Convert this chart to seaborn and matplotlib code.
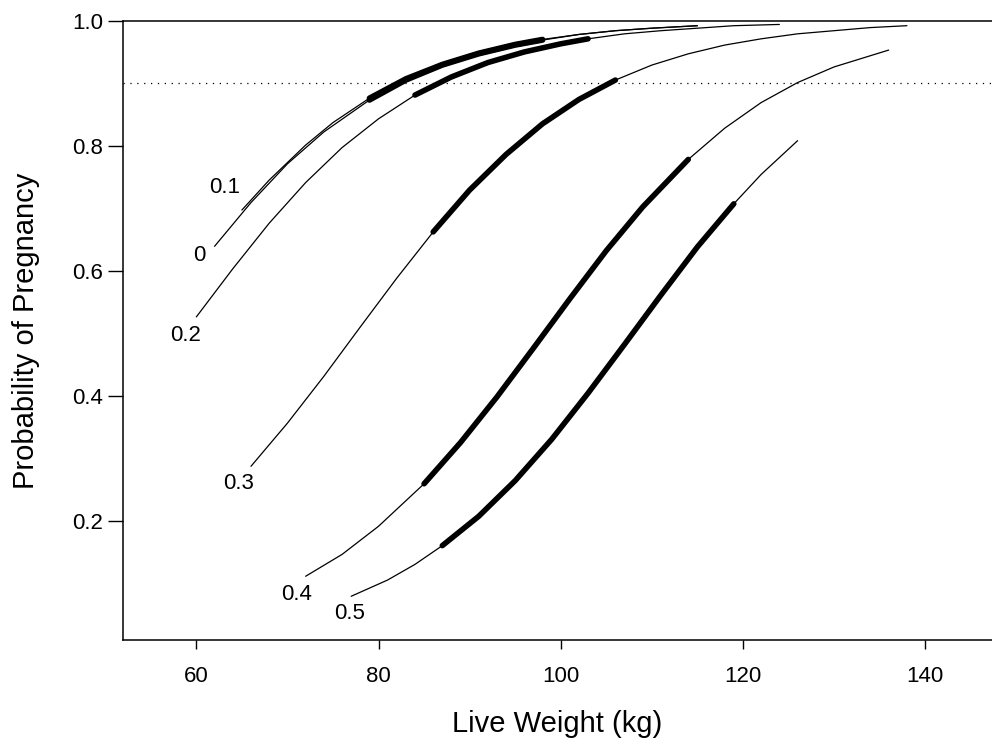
import numpy as np
import pandas as pd
import matplotlib
matplotlib.use("Agg")
import matplotlib.pyplot as plt
import seaborn as sns

sns.set_style("ticks", {'text.color': 'black', 'axes.labelcolor': 'black',
                        'xtick.color': 'black', 'ytick.color': 'black',
                        'axes.edgecolor': 'black'})
plt.rcParams['font.family'] = ['Liberation Sans', 'DejaVu Sans']

# curves: live weight (kg) -> probability of pregnancy
curve_names = ['0', '0.1', '0.2', '0.3', '0.4', '0.5']

w_0 = [62, 66, 70, 74, 79, 83, 87, 91, 95, 98, 102, 106, 110, 115]
p_0 = [0.639, 0.709, 0.771, 0.822, 0.873, 0.905, 0.929, 0.947, 0.961, 0.969, 0.978, 0.984, 0.988, 0.992]

w_01 = [65, 68, 72, 75, 79, 83, 87, 91, 95, 98, 102, 106, 110, 115]
p_01 = [0.697, 0.745, 0.801, 0.837, 0.876, 0.907, 0.930, 0.948, 0.962, 0.970, 0.978, 0.984, 0.988, 0.992]

w_02 = [60, 64, 68, 72, 76, 80, 84, 88, 92, 96, 100, 103, 107, 111, 115, 119, 124]
p_02 = [0.526, 0.603, 0.676, 0.741, 0.797, 0.843, 0.881, 0.910, 0.933, 0.950, 0.963, 0.971, 0.979, 0.984, 0.988, 0.992, 0.994]

w_03 = [66, 70, 74, 78, 82, 86, 90, 94, 98, 102, 106, 110, 114, 118, 122, 126, 130, 134, 138]
p_03 = [0.287, 0.356, 0.431, 0.510, 0.588, 0.662, 0.729, 0.786, 0.835, 0.874, 0.905, 0.929, 0.947, 0.961, 0.971, 0.979, 0.984, 0.989, 0.992]

w_04 = [72, 76, 80, 85, 89, 93, 97, 101, 105, 109, 114, 118, 122, 126, 130, 136]
p_04 = [0.111, 0.146, 0.191, 0.259, 0.325, 0.398, 0.476, 0.555, 0.632, 0.702, 0.778, 0.828, 0.869, 0.901, 0.926, 0.953]

w_05 = [77, 81, 84, 87, 91, 95, 99, 103, 107, 111, 115, 119, 122, 126]
p_05 = [0.079, 0.105, 0.130, 0.160, 0.207, 0.264, 0.330, 0.404, 0.482, 0.561, 0.638, 0.707, 0.754, 0.808]

# weight range drawn with the heavy line
thick_from = [79, 79, 84, 86, 85, 87]
thick_to = [98, 98, 103, 106, 114, 119]

# where each curve name is written
label_x = [60.3, 63.1, 58.8, 64.6, 71.0, 76.8]
label_y = [0.624, 0.733, 0.496, 0.259, 0.082, 0.051]

target = 0.9

weights = [w_0, w_01, w_02, w_03, w_04, w_05]
probs = [p_0, p_01, p_02, p_03, p_04, p_05]
rows = []
for name, ws, ps, lo, hi in zip(curve_names, weights, probs, thick_from, thick_to):
    for w, p in zip(ws, ps):
        rows.append({'curve': name, 'weight': w, 'prob': p, 'thick': lo <= w <= hi})
df = pd.DataFrame(rows)

fig = plt.figure(figsize=(9.92, 7.47), dpi=100)
ax = fig.add_axes([123 / 992, 107 / 747, 869 / 992, 619.3 / 747])

for name in curve_names:
    sub = df[df['curve'] == name]
    sns.lineplot(data=sub, x='weight', y='prob', color='black', linewidth=0.9,
                 sort=False, estimator=None, ax=ax)
    sns.lineplot(data=sub[sub['thick']], x='weight', y='prob', color='black',
                 linewidth=4.0, sort=False, estimator=None, ax=ax,
                 solid_capstyle='round')

ax.axhline(target, color='black', linewidth=0.9, linestyle=(0, (1, 4.5)))

for name, lx, ly in zip(curve_names, label_x, label_y):
    ax.text(lx, ly, name, ha='center', va='center', fontsize=16, color='black')

ax.set_xlim(51.95, 147.34)
ax.set_ylim(0.009, 1.0)
ax.set_xticks([60, 80, 100, 120, 140])
ax.set_yticks([0.2, 0.4, 0.6, 0.8, 1.0])
ax.set_yticklabels(['0.2', '0.4', '0.6', '0.8', '1.0'])
ax.tick_params(axis='both', direction='out', width=1, labelsize=16,
               color='black', labelcolor='black')
ax.tick_params(axis='x', length=6.5, pad=12)
ax.tick_params(axis='y', length=11, pad=3.5)
ax.spines['right'].set_visible(False)
for s in ['left', 'bottom', 'top']:
    ax.spines[s].set_linewidth(1.1)
    ax.spines[s].set_color('black')

ax.set_xlabel('Live Weight (kg)', fontsize=21, labelpad=17, color='black')
ax.set_ylabel('Probability of Pregnancy', fontsize=21, labelpad=23, color='black')

fig.savefig('out.png', dpi=100)
